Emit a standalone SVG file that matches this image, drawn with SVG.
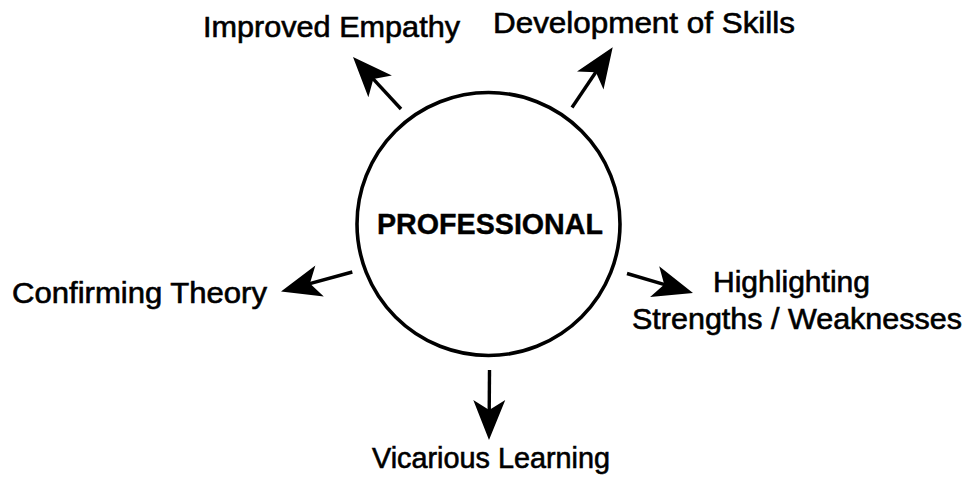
<svg xmlns="http://www.w3.org/2000/svg" xmlns:xlink="http://www.w3.org/1999/xlink" width="967" height="481" viewBox="0 0 967 481">
  <style>
    .lbl { font-family: "Liberation Sans", Arial, Helvetica, sans-serif; font-size: 29px; fill: #000; stroke: #000; stroke-width: 0.6; }
    .core { font-family: "Liberation Sans", Arial, Helvetica, sans-serif; font-size: 29px; font-weight: bold; fill: #000; stroke: #000; stroke-width: 0.4; }
    .ring { fill: #fff; stroke: #000; stroke-width: 3.6; }
    .shaft { stroke: #000; stroke-width: 3.4; fill: none; }
    .head { fill: #000; }
  </style>
  <defs>
    <!-- barbed arrowhead, tip at origin, pointing along +x -->
    <path id="head" class="head" d="M0,0 L-40,-16 L-30,0 L-40,16 Z"/>
  </defs>
  <rect width="967" height="481" fill="#fff"/>

  <g id="professional">
    <circle class="ring" cx="488.5" cy="224" r="131.5"/>
    <text class="core" x="377" y="234" textLength="226" lengthAdjust="spacingAndGlyphs">PROFESSIONAL</text>
  </g>

  <g id="improved-empathy">
    <text class="lbl" x="203" y="36.7" textLength="257" lengthAdjust="spacingAndGlyphs">Improved Empathy</text>
  </g>

  <g id="development-of-skills">
    <text class="lbl" x="493" y="33.3" textLength="302" lengthAdjust="spacingAndGlyphs">Development of Skills</text>
  </g>

  <g id="confirming-theory">
    <text class="lbl" x="12" y="303.3" textLength="255" lengthAdjust="spacingAndGlyphs">Confirming Theory</text>
  </g>

  <g id="highlighting">
    <text class="lbl" x="713" y="291.5" textLength="157" lengthAdjust="spacingAndGlyphs">Highlighting</text>
    <text class="lbl" x="632" y="329" textLength="330" lengthAdjust="spacingAndGlyphs">Strengths / Weaknesses</text>
  </g>

  <g id="vicarious-learning">
    <text class="lbl" x="372" y="468.3" textLength="238" lengthAdjust="spacingAndGlyphs">Vicarious Learning</text>
  </g>

  <g id="connectors">
    <!-- to Improved Empathy -->
    <line class="shaft" x1="401" y1="109" x2="370.6" y2="76.1"/>
    <use xlink:href="#head" transform="translate(353,57) rotate(227.3)"/>
    <!-- to Development of Skills -->
    <line class="shaft" x1="572" y1="107.5" x2="598.1" y2="68.8"/>
    <use xlink:href="#head" transform="translate(612.7,47.3) rotate(-55.9)"/>
    <!-- to Highlighting Strengths / Weaknesses -->
    <line class="shaft" x1="627" y1="273.5" x2="668.1" y2="285.6"/>
    <use xlink:href="#head" transform="translate(693,293) rotate(16.5)"/>
    <!-- to Confirming Theory -->
    <line class="shaft" x1="352.3" y1="272" x2="306.1" y2="284.6"/>
    <use xlink:href="#head" transform="translate(281,291.5) rotate(164.7)"/>
    <!-- to Vicarious Learning -->
    <line class="shaft" x1="489.5" y1="370" x2="489.2" y2="414"/>
    <use xlink:href="#head" transform="translate(489,440) rotate(90.4)"/>
  </g>
</svg>
